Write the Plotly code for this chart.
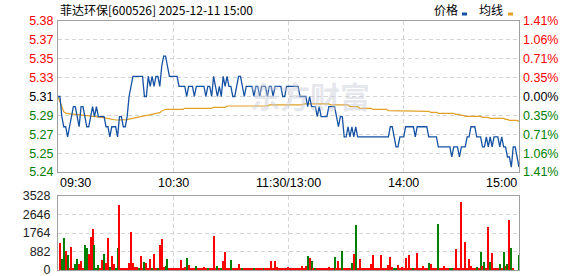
import plotly.graph_objects as go

# ---------------- data ----------------
title_text = "菲达环保[600526] 2025-12-11 15:00"
legend_names = ["价格", "均线"]
watermark_text = "东方财富"
prev_close = 5.31
pct_max = 1.41
price_axis_labels = ["5.24", "5.25", "5.27", "5.29", "5.31", "5.33", "5.35", "5.37", "5.38"]
pct_axis_labels = ["1.41%", "1.06%", "0.71%", "0.35%", "0.00%", "0.35%", "0.71%", "1.06%", "1.41%"]
vol_axis_vals = [0, 882, 1764, 2646, 3528]
time_labels = ["09:30", "10:30", "11:30/13:00", "14:00", "15:00"]
time_label_minutes = [0, 60, 120, 180, 240]

price = [
    5.31, 5.31, 5.29, 5.28, 5.28, 5.27, 5.28, 5.29, 5.30, 5.30,
    5.29, 5.28, 5.30, 5.30, 5.29, 5.28, 5.28, 5.29, 5.30, 5.29,
    5.30, 5.29, 5.29, 5.29, 5.29, 5.28, 5.28, 5.27, 5.28, 5.28,
    5.28, 5.27, 5.29, 5.29, 5.28, 5.28, 5.29, 5.31, 5.32, 5.33,
    5.33, 5.33, 5.33, 5.33, 5.33, 5.31, 5.31, 5.33, 5.32, 5.33,
    5.32, 5.33, 5.33, 5.32, 5.34, 5.35, 5.35, 5.34, 5.33, 5.33,
    5.33, 5.33, 5.33, 5.32, 5.32, 5.32, 5.32, 5.31, 5.32, 5.32,
    5.32, 5.31, 5.32, 5.32, 5.32, 5.32, 5.32, 5.31, 5.32, 5.32,
    5.31, 5.33, 5.32, 5.31, 5.32, 5.31, 5.33, 5.32, 5.33, 5.32,
    5.32, 5.31, 5.31, 5.32, 5.33, 5.33, 5.32, 5.31, 5.32, 5.32,
    5.32, 5.32, 5.31, 5.32, 5.32, 5.31, 5.32, 5.32, 5.32, 5.31,
    5.32, 5.32, 5.31, 5.32, 5.32, 5.32, 5.32, 5.31, 5.31, 5.32,
    5.32, 5.32, 5.32, 5.32, 5.32, 5.32, 5.31, 5.31, 5.31, 5.31,
    5.30, 5.31, 5.30, 5.30, 5.30, 5.29, 5.30, 5.29, 5.29, 5.29,
    5.29, 5.30, 5.30, 5.30, 5.30, 5.29, 5.28, 5.29, 5.29, 5.27,
    5.27, 5.28, 5.27, 5.28, 5.27, 5.28, 5.27, 5.27, 5.27, 5.27,
    5.27, 5.27, 5.27, 5.27, 5.27, 5.27, 5.27, 5.27, 5.27, 5.27,
    5.27, 5.27, 5.27, 5.28, 5.28, 5.27, 5.26, 5.26, 5.27, 5.27,
    5.27, 5.28, 5.28, 5.28, 5.28, 5.28, 5.27, 5.28, 5.28, 5.28,
    5.28, 5.28, 5.28, 5.27, 5.27, 5.27, 5.27, 5.27, 5.26, 5.26,
    5.26, 5.26, 5.26, 5.26, 5.26, 5.25, 5.26, 5.26, 5.26, 5.25,
    5.26, 5.26, 5.26, 5.27, 5.27, 5.28, 5.28, 5.28, 5.27, 5.27,
    5.27, 5.26, 5.26, 5.27, 5.26, 5.27, 5.26, 5.27, 5.27, 5.27,
    5.26, 5.27, 5.26, 5.26, 5.25, 5.25, 5.24, 5.26, 5.26, 5.25,
    5.24,
]

avg_price = [
    5.3100, 5.3050, 5.2980, 5.2950, 5.2935, 5.2930, 5.2928, 5.2925, 5.2925, 5.2923,
    5.2920, 5.2920, 5.2918, 5.2915, 5.2912, 5.2910, 5.2910, 5.2910, 5.2905, 5.2900,
    5.2900, 5.2898, 5.2895, 5.2893, 5.2890, 5.2885, 5.2880, 5.2875, 5.2870, 5.2867,
    5.2867, 5.2867, 5.2867, 5.2867, 5.2867, 5.2867, 5.2870, 5.2875, 5.2880, 5.2885,
    5.2890, 5.2894, 5.2898, 5.2900, 5.2905, 5.2910, 5.2913, 5.2916, 5.2920, 5.2925,
    5.2930, 5.2933, 5.2936, 5.2940, 5.2956, 5.2965, 5.2973, 5.2973, 5.2973, 5.2973,
    5.2973, 5.2973, 5.2973, 5.2973, 5.2973, 5.2973, 5.2983, 5.2983, 5.2983, 5.2983,
    5.2983, 5.2983, 5.2983, 5.2983, 5.2983, 5.2983, 5.2983, 5.2983, 5.2983, 5.2983,
    5.2983, 5.2993, 5.2993, 5.2993, 5.2993, 5.2993, 5.2993, 5.2993, 5.3006, 5.3006,
    5.3006, 5.3006, 5.3006, 5.3006, 5.3006, 5.3006, 5.3006, 5.3006, 5.3006, 5.3006,
    5.3006, 5.3006, 5.3006, 5.3006, 5.3006, 5.3006, 5.3006, 5.3006, 5.3006, 5.3006,
    5.3016, 5.3016, 5.3016, 5.3016, 5.3016, 5.3016, 5.3016, 5.3016, 5.3016, 5.3016,
    5.3016, 5.3016, 5.3016, 5.3016, 5.3016, 5.3016, 5.3016, 5.3016, 5.3026, 5.3026,
    5.3026, 5.3026, 5.3026, 5.3026, 5.3026, 5.3026, 5.3026, 5.3026, 5.3026, 5.3026,
    5.3026, 5.3026, 5.3016, 5.3016, 5.3016, 5.3016, 5.3016, 5.3016, 5.3016, 5.3016,
    5.3016, 5.3016, 5.2999, 5.2999, 5.2999, 5.2999, 5.2999, 5.2983, 5.2983, 5.2983,
    5.2983, 5.2983, 5.2983, 5.2983, 5.2973, 5.2973, 5.2973, 5.2973, 5.2973, 5.2973,
    5.2973, 5.2973, 5.2960, 5.2960, 5.2960, 5.2960, 5.2960, 5.2960, 5.2960, 5.2960,
    5.2960, 5.2953, 5.2953, 5.2953, 5.2953, 5.2953, 5.2953, 5.2953, 5.2953, 5.2953,
    5.2953, 5.2953, 5.2953, 5.2953, 5.2943, 5.2943, 5.2943, 5.2943, 5.2933, 5.2933,
    5.2933, 5.2933, 5.2933, 5.2933, 5.2933, 5.2933, 5.2933, 5.2923, 5.2923, 5.2923,
    5.2913, 5.2913, 5.2903, 5.2903, 5.2903, 5.2903, 5.2903, 5.2903, 5.2903, 5.2903,
    5.2903, 5.2893, 5.2893, 5.2893, 5.2893, 5.2883, 5.2883, 5.2883, 5.2883, 5.2883,
    5.2883, 5.2883, 5.2883, 5.2873, 5.2873, 5.2863, 5.2863, 5.2863, 5.2863, 5.2863,
    5.2853,
]

volume = [
    0, 1290, 520, 1530, 900, 720, 60, 1100, 110, 290,
    520, 290, 430, 60, 1190, 1050, 760, 1570, 1950, 1190,
    60, 240, 60, 480, 760, 330, 1520, 140, 670, 290,
    60, 1050, 3100, 100, 50, 50, 50, 330, 1810, 330,
    140, 140, 50, 670, 50, 380, 330, 100, 520, 50,
    760, 50, 50, 1190, 1480, 140, 190, 520, 100, 50,
    50, 100, 50, 50, 480, 50, 140, 570, 240, 50,
    50, 50, 190, 50, 50, 50, 140, 50, 50, 50,
    50, 1620, 100, 190, 50, 50, 430, 860, 50, 50,
    480, 50, 50, 50, 290, 50, 50, 50, 50, 50,
    50, 50, 50, 50, 50, 50, 50, 50, 50, 50,
    50, 430, 50, 430, 140, 50, 50, 50, 50, 50,
    140, 50, 50, 50, 50, 50, 50, 190, 50, 190,
    670, 570, 430, 100, 50, 50, 50, 50, 50, 50,
    50, 140, 100, 50, 620, 50, 430, 100, 910, 50,
    50, 50, 50, 330, 760, 2150, 100, 520, 50, 50,
    50, 50, 50, 290, 720, 50, 50, 50, 720, 50,
    50, 50, 240, 620, 140, 50, 100, 240, 50, 140,
    50, 570, 50, 720, 50, 50, 50, 810, 50, 50,
    190, 50, 50, 330, 290, 50, 50, 50, 2190, 50,
    50, 190, 50, 50, 50, 50, 50, 1000, 50, 50,
    3240, 50, 1340, 50, 520, 190, 50, 50, 140, 100,
    860, 190, 380, 100, 2050, 380, 810, 100, 50, 50,
    290, 100, 860, 190, 290, 2380, 1050, 50, 0, 0,
    720,
]

# 1 = up (red) minute, 0 = down (green) minute
vol_up = [
    1, 1, 0, 0, 1, 0, 1, 1, 1, 0,
    0, 1, 1, 1, 0, 0, 1, 1, 1, 0,
    0, 0, 1, 1, 0, 1, 1, 0, 1, 1,
    0, 0, 1, 1, 1, 1, 1, 1, 1, 1,
    1, 1, 0, 1, 1, 0, 1, 1, 1, 0,
    1, 1, 0, 1, 1, 1, 0, 0, 1, 1,
    1, 1, 1, 1, 1, 1, 1, 0, 1, 1,
    1, 1, 0, 1, 1, 1, 1, 1, 0, 1,
    1, 1, 1, 0, 1, 0, 1, 1, 1, 1,
    0, 1, 1, 1, 1, 1, 0, 1, 1, 1,
    1, 1, 0, 1, 1, 1, 1, 0, 1, 1,
    1, 1, 1, 1, 1, 1, 1, 1, 1, 1,
    1, 1, 1, 1, 1, 1, 1, 1, 1, 1,
    0, 1, 0, 1, 0, 1, 1, 1, 1, 1,
    1, 1, 1, 1, 0, 1, 1, 1, 0, 1,
    1, 1, 1, 0, 1, 0, 1, 1, 1, 1,
    1, 1, 1, 1, 1, 1, 1, 1, 1, 1,
    1, 1, 1, 1, 1, 0, 0, 1, 1, 1,
    1, 1, 1, 1, 1, 0, 1, 1, 1, 1,
    1, 1, 1, 0, 1, 1, 1, 1, 0, 1,
    1, 1, 1, 1, 0, 0, 1, 1, 1, 1,
    1, 1, 1, 1, 1, 1, 1, 1, 0, 1,
    0, 1, 0, 1, 1, 0, 1, 1, 1, 1,
    0, 1, 0, 1, 0, 1, 0, 1, 1, 1,
    0,
]

# ---------------- styling / layout ----------------
W, H = 578, 276
ML, MR, MT, MB = 58, 59, 21, 6
PH = H - MT - MB


def py(px_y):
    return (H - MB - px_y) / PH


def pxx(px_x):
    return (px_x - ML) / (W - ML - MR)


RED = "#ff0000"
GREEN = "#008000"
BLUE = "#1552a3"
ORANGE = "#e0a126"
GRID = "#d4d4d4"
BORDER = "#a0a0a0"
FONT = "Liberation Sans, Arial, sans-serif"
CJK = "Noto Sans CJK SC, sans-serif"

minutes = list(range(len(price)))
lo = prev_close * (1 - pct_max / 100)
hi = prev_close * (1 + pct_max / 100)
n_ticks = len(price_axis_labels)
tick_pos = [lo + (hi - lo) * i / (n_ticks - 1) for i in range(n_ticks)]
mid = (n_ticks - 1) // 2


def colored(lbl, i):
    c = RED if i > mid else ("#000000" if i == mid else GREEN)
    return f'<span style="color:{c}">{lbl}</span>'


price_text = [colored(l, i) for i, l in enumerate(price_axis_labels)]
pct_text = [colored(l, i) for i, l in enumerate(pct_axis_labels)]
pct_pos = [(p / prev_close - 1) * 100 for p in tick_pos]

fig = go.Figure()
fig.add_trace(go.Scatter(x=minutes, y=avg_price, mode="lines", name=legend_names[1],
                         line=dict(color=ORANGE, width=1.2), xaxis="x", yaxis="y",
                         hoverinfo="skip"))
fig.add_trace(go.Scatter(x=minutes, y=price, mode="lines", name=legend_names[0],
                         line=dict(color=BLUE, width=1.3), xaxis="x", yaxis="y"))
fig.add_trace(go.Bar(x=minutes, y=volume, width=0.55,
                     marker=dict(color=[RED if u else GREEN for u in vol_up], line=dict(width=0)),
                     xaxis="x2", yaxis="y2", showlegend=False))
# invisible trace to activate the right-hand percent axis
fig.add_trace(go.Scatter(x=[minutes[0]], y=[0], mode="markers", marker=dict(opacity=0),
                         xaxis="x", yaxis="y3", showlegend=False, hoverinfo="skip"))

common_x = dict(range=[0, len(price) - 1], tickvals=time_label_minutes, showticklabels=False,
                showgrid=True, gridcolor=GRID, griddash="4px,3px", gridwidth=1,
                showline=True, mirror=True, linecolor=BORDER, linewidth=1,
                zeroline=False, ticks="", fixedrange=True, automargin=False)

fig.update_layout(
    width=W, height=H, margin=dict(l=ML, r=MR, t=MT, b=MB, autoexpand=False),
    paper_bgcolor="white", plot_bgcolor="white", showlegend=False,
    bargap=0,
    xaxis=dict(domain=[0, 1], anchor="y", **common_x),
    xaxis2=dict(domain=[0, 1], anchor="y2", matches="x", **common_x),
    yaxis=dict(domain=[py(172), 1], range=[lo, hi], tickvals=tick_pos, ticktext=price_text,
               showgrid=True, gridcolor=GRID, griddash="4px,3px", showline=True, mirror=True,
               linecolor=BORDER, zeroline=False, ticks="", tickfont=dict(family=FONT, size=12.5),
               ticklabelstandoff=1, automargin=False, ticklabeloverflow="allow"),
    yaxis3=dict(overlaying="y", side="right", anchor="x", range=[-pct_max, pct_max],
                tickvals=pct_pos, ticktext=pct_text, showgrid=False, zeroline=False,
                showline=False, ticks="", tickfont=dict(family=FONT, size=12.5),
                ticklabelstandoff=3, automargin=False, ticklabeloverflow="allow"),
    yaxis2=dict(domain=[0, py(196)], range=[0, vol_axis_vals[-1]], tickvals=vol_axis_vals,
                ticktext=[str(v) for v in vol_axis_vals],
                showgrid=True, gridcolor=GRID, griddash="4px,3px", showline=True, mirror=True,
                linecolor=BORDER, zeroline=False, ticks="",
                tickfont=dict(family=FONT, size=12.5, color="#222222"), ticklabelstandoff=4,
                automargin=False, ticklabeloverflow="allow"),
)

ann = []
ann.append(dict(text=title_text, xref="paper", yref="paper", x=0, y=py(9), xanchor="left",
                yanchor="middle", showarrow=False, font=dict(family=CJK, size=12, color="#000")))
ann.append(dict(text=legend_names[0], xref="paper", yref="paper", x=pxx(432), y=py(10),
                xanchor="left", yanchor="middle", showarrow=False,
                font=dict(family=CJK, size=12, color="#000")))
ann.append(dict(text=legend_names[1], xref="paper", yref="paper", x=pxx(477), y=py(10),
                xanchor="left", yanchor="middle", showarrow=False,
                font=dict(family=CJK, size=12, color="#000")))
ann.append(dict(text=f"<b>{watermark_text}</b>", xref="paper", yref="paper", x=pxx(310), y=py(95),
                xanchor="center", yanchor="middle", showarrow=False,
                font=dict(family=CJK, size=30, color="rgba(200,202,215,0.45)")))
anchors = ["left", "center", "center", "center", "right"]
for lbl, m, a in zip(time_labels, time_label_minutes, anchors):
    ann.append(dict(text=lbl, xref="x", yref="paper", x=m, y=py(183), xanchor=a,
                    yanchor="middle", showarrow=False, font=dict(family=FONT, size=12.5, color="#000")))
fig.update_layout(annotations=ann)

fig.update_layout(shapes=[
    dict(type="rect", xref="paper", yref="paper", x0=pxx(462), x1=pxx(467), y0=py(15.5), y1=py(12.5),
         fillcolor=BLUE, line=dict(width=0)),
    dict(type="rect", xref="paper", yref="paper", x0=pxx(508), x1=pxx(513), y0=py(15.5), y1=py(12.5),
         fillcolor=ORANGE, line=dict(width=0)),
])

fig.write_html("out.html")
